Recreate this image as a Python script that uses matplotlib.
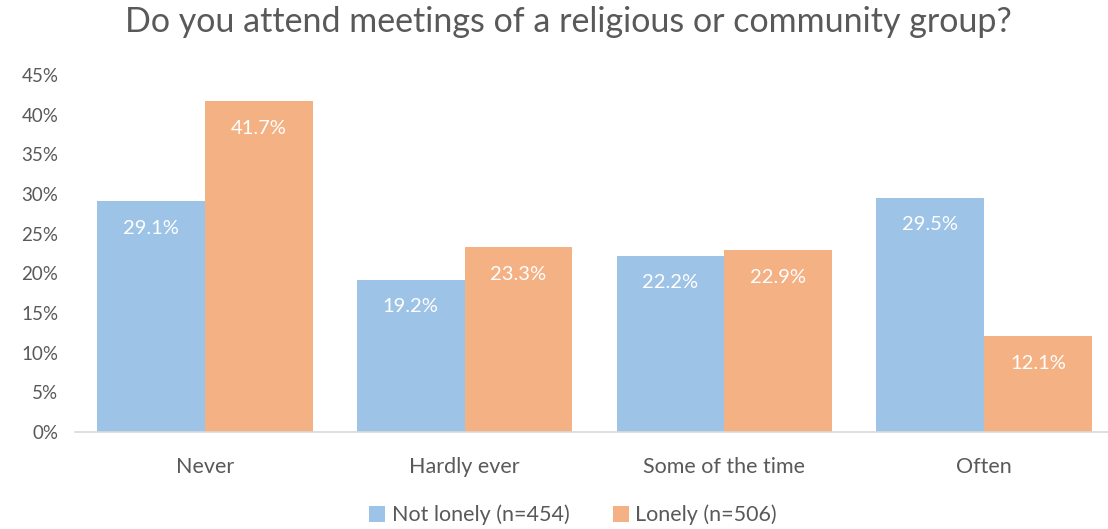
import matplotlib
matplotlib.use("Agg")
import matplotlib.pyplot as plt
import numpy as np

categories = ["Never", "Hardly ever", "Some of the time", "Often"]
not_lonely = [29.1, 19.2, 22.2, 29.5]
lonely = [41.7, 23.3, 22.9, 12.1]
series_names = ["Not lonely (n=454)", "Lonely (n=506)"]
yticks = [0, 5, 10, 15, 20, 25, 30, 35, 40, 45]

BLUE = "#9DC3E6"
ORANGE = "#F4B183"
TEXT = "#595959"

plt.rcParams["font.family"] = ["Lato", "DejaVu Sans"]

W, H = 1108, 529
fig = plt.figure(figsize=(W / 100, H / 100), dpi=100)
left, right, bottom, top = 75, 1114, 432, 75
ax = fig.add_axes([left / W, 1 - bottom / H, (right - left) / W, (bottom - top) / H])

x = np.arange(len(categories))
bw = 0.415
b1 = ax.bar(x - bw / 2, not_lonely, bw, color=BLUE, label=series_names[0])
b2 = ax.bar(x + bw / 2, lonely, bw, color=ORANGE, label=series_names[1])

for bars, vals in ((b1, not_lonely), (b2, lonely)):
    for rect, v in zip(bars, vals):
        ax.annotate(f"{v:.1f}%", (rect.get_x() + rect.get_width() / 2, v),
                    xytext=(0, -27), textcoords="offset pixels",
                    ha="center", va="center", color="white", fontsize=14.5)

ax.set_xlim(-0.5, len(categories) - 0.5)
ax.set_ylim(0, 45)
ax.set_yticks(yticks)
ax.set_yticklabels([f"{t}%" for t in yticks])
ax.set_xticks(x)
ax.set_xticklabels(categories, fontsize=15.5)
ax.tick_params(axis="both", length=0, colors=TEXT)
ax.tick_params(axis="y", pad=12, labelsize=13.5)
ax.tick_params(axis="x", pad=18)
for s in ("top", "right", "left"):
    ax.spines[s].set_visible(False)
ax.spines["bottom"].set_color("#D9D9D9")
ax.spines["bottom"].set_linewidth(1.2)

fig.text(568 / W, 1 - 22 / H, "Do you attend meetings of a religious or community group?",
         ha="center", va="center", fontsize=24.5, color=TEXT)

fig.legend(loc="center", bbox_to_anchor=(573 / W, 1 - 515 / H), ncol=2, frameon=False,
           fontsize=15.5, labelcolor=TEXT, handlelength=0.75, handleheight=0.75,
           handletextpad=0.3, columnspacing=2.0)

fig.savefig("out.png", dpi=100)
